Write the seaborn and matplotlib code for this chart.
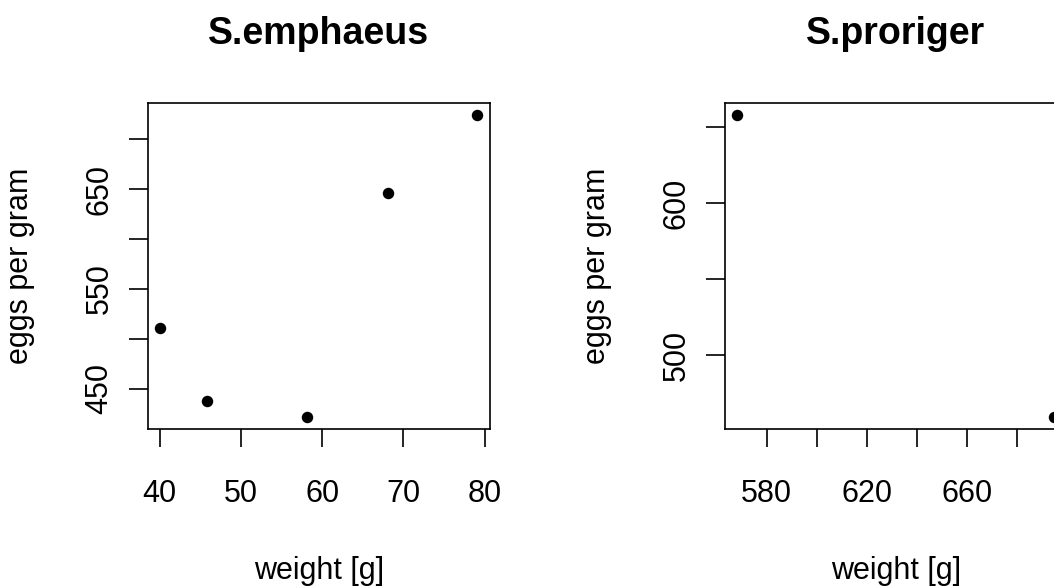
import matplotlib
matplotlib.use("Agg")
import matplotlib.pyplot as plt
import seaborn as sns
import pandas as pd

# ---- data ----
emph_weight = [40.1, 45.9, 58.1, 68.1, 79.1]
emph_eggs = [510.5, 437.3, 421.5, 646.0, 724.0]

pror_weight = [568.3, 694.8]
pror_eggs = [657.7, 459.5]

emph_xticks = [40, 50, 60, 70, 80]
emph_xlabels = ["40", "50", "60", "70", "80"]
emph_yticks = [450, 500, 550, 600, 650, 700]
emph_ylabels = ["450", "", "550", "", "650", ""]

pror_xticks = [580, 600, 620, 640, 660, 680]
pror_xlabels = ["580", "", "620", "", "660", ""]
pror_yticks = [500, 550, 600, 650]
pror_ylabels = ["500", "", "600", ""]

titles = ["S.emphaeus", "S.proriger"]
xlab = "weight [g]"
ylab = "eggs per gram"

sns.set_style("white")
plt.rcParams["font.family"] = ["Liberation Sans", "DejaVu Sans"]
plt.rcParams["text.color"] = "black"
plt.rcParams["axes.labelcolor"] = "black"
plt.rcParams["xtick.color"] = "black"
plt.rcParams["ytick.color"] = "black"

fig = plt.figure(figsize=(10.54, 5.88), dpi=100)
ax1 = fig.add_axes([0.1401, 0.2704, 0.3248, 0.5539])
ax2 = fig.add_axes([0.6876, 0.2704, 0.3248, 0.5539])

panels = [
    (ax1, emph_weight, emph_eggs, emph_xticks, emph_xlabels, emph_yticks, emph_ylabels, titles[0]),
    (ax2, pror_weight, pror_eggs, pror_xticks, pror_xlabels, pror_yticks, pror_ylabels, titles[1]),
]

for ax, xs, ys, xt, xl, yt, yl, title in panels:
    df = pd.DataFrame({"w": xs, "e": ys})
    sns.scatterplot(data=df, x="w", y="e", ax=ax, color="black", s=68,
                    linewidth=0, marker="o")
    ax.margins(x=0.04, y=0.04)
    ax.set_xticks(xt)
    ax.set_xticklabels(xl)
    ax.set_yticks(yt)
    ax.set_yticklabels(yl, rotation=90, va="center")
    ax.tick_params(axis="x", direction="out", length=13, width=1.2,
                   pad=23, labelsize=22, colors="black", bottom=True)
    ax.tick_params(axis="y", direction="out", length=13.7, width=1.2,
                   pad=10, labelsize=22, colors="black", left=True)
    for sp in ax.spines.values():
        sp.set_visible(True)
        sp.set_color("black")
        sp.set_linewidth(1.2)
    ax.set_xlabel(xlab, fontsize=22, va="top", color="black")
    ax.set_ylabel(ylab, fontsize=22, color="black")
    ax.xaxis.set_label_coords(0.5, -0.39)
    ax.yaxis.set_label_coords(-0.33, 0.5)
    ax.set_title(title, fontsize=27, fontweight="bold", pad=43, color="black")
    ax.set_facecolor("white")

fig.patch.set_facecolor("white")
fig.savefig("out.png", dpi=100)
